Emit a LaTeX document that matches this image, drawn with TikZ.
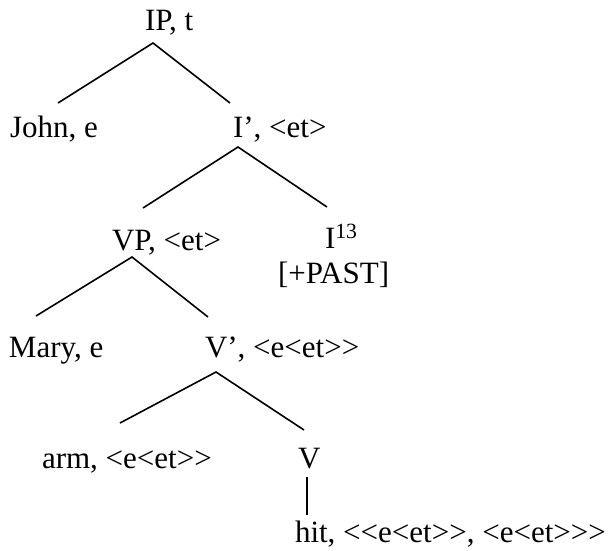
\documentclass[tikz,border=0pt]{standalone}
\usepackage{fontspec}
\setmainfont{Liberation Serif}[Ligatures=TeXOff]
\begin{document}
\begin{tikzpicture}[x=1pt,y=-1pt,
  lab/.style={anchor=base west,inner sep=0pt,outer sep=0pt,font=\fontsize{31}{37}\selectfont},
  branch/.style={line width=1.6pt}]
\useasboundingbox (0,0) rectangle (611,550);
% labels
\node[lab] (ip)   at (145,30)  {IP, t};
\node[lab] (john) at (10,137)  {John, e};
\node[lab] (ibar) at (233,137) {I’, <et>};
\node[lab] (vp)   at (112,250) {VP, <et>};
\node[lab] (i)    at (325,248) {I\textsuperscript{13}};
\node[lab] (past) at (278,283) {[+PAST]};
\node[lab] (mary) at (9,357)   {Mary, e};
\node[lab] (vbar) at (205,357) {V’, <e<et>>};
\node[lab] (arm)  at (42,468)  {arm, <e<et>>};
\node[lab] (v)    at (298,468) {V};
\node[lab] (hit)  at (295,542) {hit, <<e<et>>, <e<et>>>};
% branch points
\coordinate (ipB)   at (153,43);
\coordinate (johnT) at (58,103);
\coordinate (ibarT) at (230,103);
\coordinate (ibarB) at (238,147);
\coordinate (vpT)   at (143,208);
\coordinate (iT)    at (327,207);
\coordinate (vpB)   at (132,257);
\coordinate (maryT) at (36,316);
\coordinate (vbarT) at (208,317);
\coordinate (vbarB) at (216,372);
\coordinate (armT)  at (120,423);
\coordinate (vT)    at (304,430);
\coordinate (vB)    at (307,477);
\coordinate (hitT)  at (307,515);
% branches
\draw[branch] (johnT) -- (ipB) -- (ibarT);
\draw[branch] (vpT) -- (ibarB) -- (iT);
\draw[branch] (maryT) -- (vpB) -- (vbarT);
\draw[branch] (armT) -- (vbarB) -- (vT);
\draw[branch] (vB) -- (hitT);
\end{tikzpicture}
\end{document}
